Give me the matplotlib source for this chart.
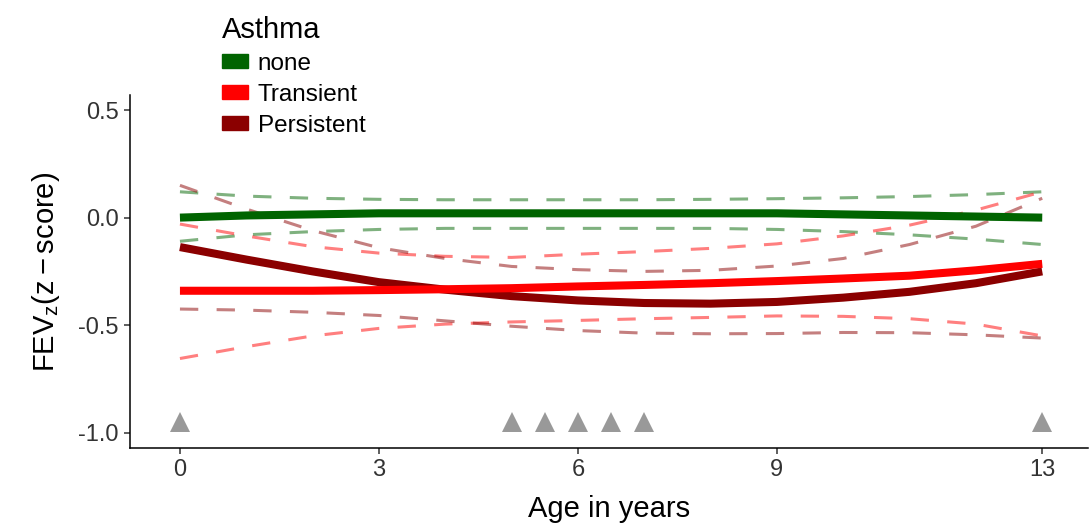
import numpy as np
import matplotlib
matplotlib.use("Agg")
import matplotlib.pyplot as plt
import matplotlib.patches as mpatches

plt.rcParams['font.family'] = ['Liberation Sans', 'DejaVu Sans']
plt.rcParams['mathtext.fontset'] = 'custom'
plt.rcParams['mathtext.rm'] = 'Liberation Sans'
plt.rcParams['mathtext.it'] = 'Liberation Sans:italic'

## Data
ages = [0, 1, 2, 3, 4, 5, 6, 7, 8, 9, 10, 11, 12, 13]

none_fit = [0.0, 0.01, 0.015, 0.02, 0.02, 0.02, 0.02, 0.02, 0.02, 0.02, 0.015, 0.01, 0.005, 0.0]
none_hi = [0.12, 0.10, 0.09, 0.085, 0.083, 0.083, 0.083, 0.083, 0.085, 0.088, 0.092, 0.098, 0.107, 0.12]
none_lo = [-0.11, -0.08, -0.065, -0.055, -0.05, -0.05, -0.05, -0.05, -0.05, -0.055, -0.065, -0.08, -0.10, -0.125]

trans_fit = [-0.34, -0.34, -0.34, -0.337, -0.333, -0.328, -0.32, -0.313, -0.305, -0.295, -0.283, -0.27, -0.245, -0.215]
trans_hi = [-0.03, -0.085, -0.135, -0.165, -0.18, -0.185, -0.17, -0.158, -0.143, -0.122, -0.085, -0.035, 0.035, 0.12]
trans_lo = [-0.655, -0.60, -0.55, -0.515, -0.495, -0.485, -0.478, -0.47, -0.464, -0.457, -0.459, -0.47, -0.495, -0.55]

pers_fit = [-0.137, -0.195, -0.25, -0.30, -0.335, -0.365, -0.385, -0.397, -0.40, -0.392, -0.372, -0.345, -0.305, -0.25]
pers_hi = [0.15, 0.04, -0.06, -0.14, -0.19, -0.227, -0.242, -0.25, -0.245, -0.225, -0.19, -0.125, -0.04, 0.09]
pers_lo = [-0.425, -0.43, -0.44, -0.455, -0.48, -0.505, -0.525, -0.537, -0.54, -0.539, -0.534, -0.535, -0.545, -0.56]

visit_ages = [0, 5, 5.5, 6, 6.5, 7, 13]
visit_y = [-0.95] * len(visit_ages)

groups = ['none', 'Transient', 'Persistent']
colors = {'none': '#006400', 'Transient': '#ff0000', 'Persistent': '#8b0000'}
series = {
    'none': (none_fit, none_lo, none_hi),
    'Transient': (trans_fit, trans_lo, trans_hi),
    'Persistent': (pers_fit, pers_lo, pers_hi),
}

fig = plt.figure(figsize=(10.89, 5.23), dpi=100)
ax = fig.add_axes([130 / 1089, 75 / 523, 958 / 1089, 353 / 523])

## confidence bands (dashed)
for g in groups:
    fit, lo, hi = series[g]
    for band in (lo, hi):
        ax.plot(ages, band, color=colors[g], lw=2.2, alpha=0.5,
                linestyle=(0, (6, 6)), solid_capstyle='butt')

## fitted curves
for g in ['none', 'Persistent', 'Transient']:
    fit = series[g][0]
    ax.plot(ages, fit, color=colors[g], lw=5.8, solid_capstyle='butt',
            solid_joinstyle='round')

## visit markers
ax.plot(visit_ages, visit_y, linestyle='none', marker='^', ms=14,
        color='#999999', markeredgewidth=0)

ax.set_xlim(-0.753, 13.69)
ax.set_ylim(-1.071, 0.57)
ax.set_xticks([0, 3, 6, 9, 13])
ax.set_yticks([-1.0, -0.5, 0.0, 0.5])
ax.set_yticklabels(['-1.0', '-0.5', '0.0', '0.5'])

for s in ['top', 'right']:
    ax.spines[s].set_visible(False)
for s in ['left', 'bottom']:
    ax.spines[s].set_linewidth(1.1)
    ax.spines[s].set_color('black')
ax.tick_params(axis='both', length=4, width=1.1, color='#333333',
               labelsize=17, labelcolor='#333333', pad=4)

ax.set_xlabel('Age in years', fontsize=21, labelpad=10)
ax.set_ylabel(r'$\mathrm{FEV}_{\mathrm{z}}(\mathrm{z}-\mathrm{score})$',
              fontsize=21, labelpad=12)

## legend
handles = [mpatches.Patch(color=colors[g], label=g) for g in groups]
leg = fig.legend(handles=handles, title='Asthma', loc='upper left',
                 bbox_to_anchor=(222 / 1089, 0.97), frameon=False,
                 fontsize=17.5, title_fontsize=21, alignment='left',
                 handlelength=1.07, handleheight=0.5, handletextpad=0.4,
                 labelspacing=0.37, borderpad=0, borderaxespad=0)

fig.savefig('out.png', dpi=100)
